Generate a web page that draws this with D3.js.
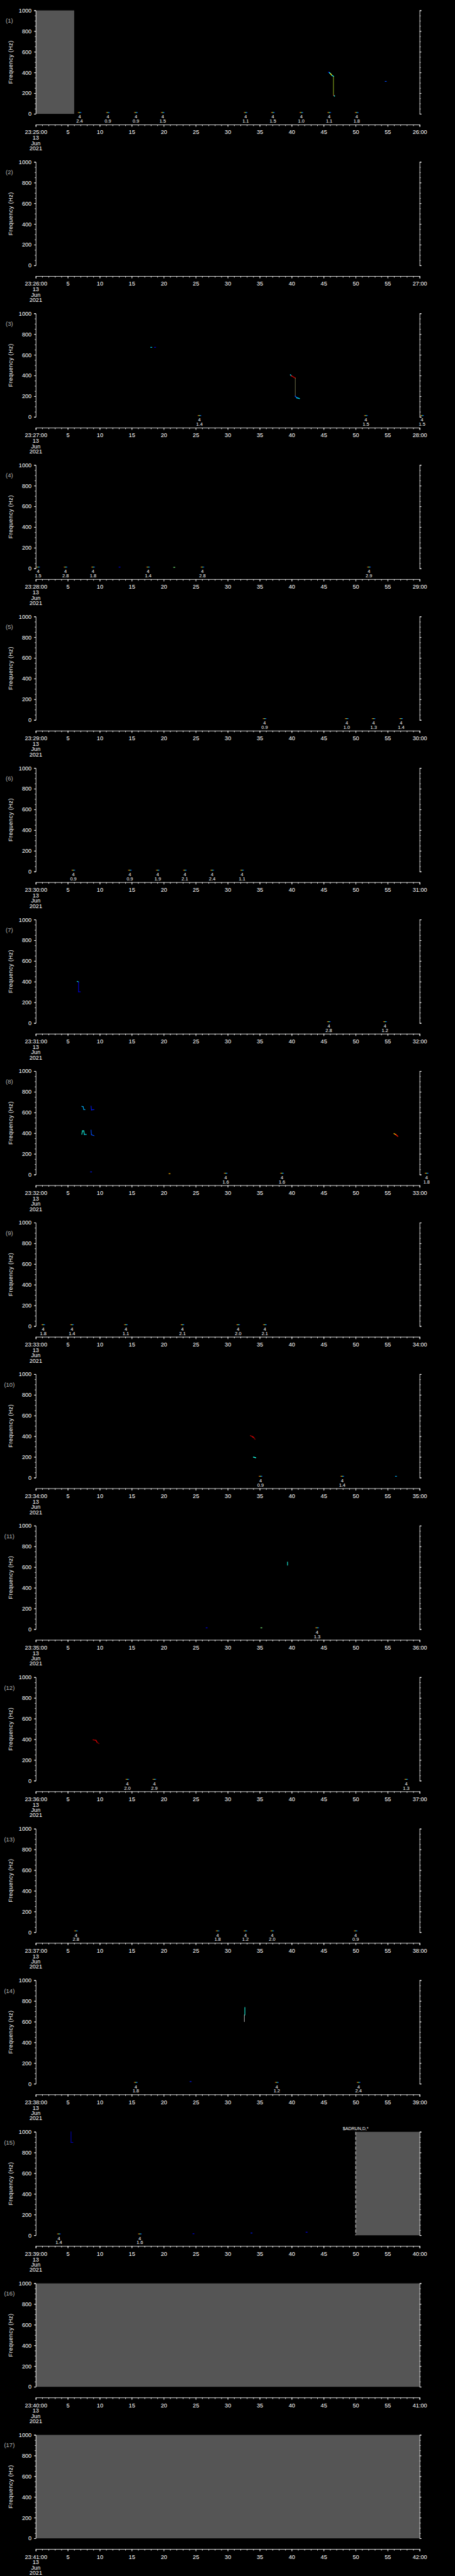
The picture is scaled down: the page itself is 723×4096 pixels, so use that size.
<!DOCTYPE html>
<html>
<head>
<meta charset="utf-8">
<script src="https://cdn.jsdelivr.net/npm/d3@7"></script>
<style>
  html, body { margin: 0; padding: 0; background: #000; }
  svg { display: block; }
  text { font-family: "Liberation Sans", Arial, sans-serif; fill: #fff; }
</style>
</head>
<body>
<div id="chart"></div>
<script>
// one panel per minute, 23:25 .. 23:41 UT, 13 Jun 2021
const startMinutes = [25, 26, 27, 28, 29, 30, 31, 32, 33, 34, 35, 36, 37, 38, 39, 40, 41];
const freqTicks = [0, 200, 400, 600, 800, 1000];

// detected events (seconds after the minute) and their values
const eventTimes = [
  [6.85, 11.27, 15.65, 19.84, 32.8, 37.06, 41.5, 45.86, 50.16],
  [],
  [25.58, 51.6, 60.37],
  [0.36, 4.65, 8.95, 17.56, 26.04, 52.07],
  [35.76, 48.6, 52.8, 57.1],
  [5.87, 14.7, 19.06, 23.3, 27.57, 32.24],
  [45.8, 54.58],
  [29.68, 38.48, 61.08],
  [1.16, 5.65, 14.08, 22.92, 31.63, 35.8],
  [35.13, 47.9],
  [43.97],
  [14.31, 18.53, 57.9],
  [6.28, 28.42, 32.77, 36.95, 50.0],
  [15.63, 37.67, 50.45],
  [3.6, 16.26],
  [],
  []
];
const eventValues = [
  ['2.4', '0.9', '0.9', '1.5', '1.1', '1.5', '1.0', '1.1', '1.8'],
  [],
  ['1.4', '1.5', '1.5'],
  ['1.5', '2.8', '1.8', '1.4', '2.8', '2.9'],
  ['0.9', '1.0', '1.3', '1.4'],
  ['0.9', '0.9', '1.9', '2.1', '2.4', '1.1'],
  ['2.8', '1.2'],
  ['1.6', '1.6', '1.8'],
  ['1.8', '1.4', '1.1', '2.1', '2.0', '2.1'],
  ['0.9', '1.4'],
  ['1.3'],
  ['2.0', '2.9', '1.3'],
  ['2.8', '1.8', '1.2', '2.0', '0.9'],
  ['1.8', '1.2', '2.4'],
  ['1.4', '1.6'],
  [],
  []
];
const eventLevel = '4';

// small isolated spectrogram pixels: [panel, seconds, Hz, colour value]
const blips = [
  [0, 54.7, 313, 0.2],
  [2, 18.05, 672, 0.35], [2, 18.64, 672, 0.1],
  [3, 13.1, 12, 0.1], [3, 21.64, 10, 0.5],
  [7, 8.64, 25, 0.15], [7, 20.9, 8, 0.7],
  [9, 56.3, 12, 0.3],
  [10, 26.7, 12, 0.1], [10, 35.26, 12, 0.5],
  [13, 24.2, 20, 0.15],
  [14, 24.65, 14, 0.1], [14, 33.72, 21, 0.15], [14, 42.33, 29, 0.1]
];

// tonal traces: panel, stroke width, points [seconds, Hz, colour value]
const traces = [
  { panel: 0, w: 2, pts: [[45.74, 403, 0.1], [45.9, 398, 0.4], [46.1, 386, 0.65], [46.3, 372, 0.35], [46.53, 363, 0.15]] },
  { panel: 0, w: 1, pts: [[46.53, 363, 0.58], [46.53, 181, 0.58]] },
  { panel: 0, w: 2, pts: [[46.53, 181, 0.95], [46.62, 176, 0.4], [46.7, 172, 0.35]] },
  { panel: 2, w: 2, pts: [[39.8, 407, 0.35], [39.95, 398, 0.9], [40.3, 385, 0.95], [40.56, 375, 0.8]] },
  { panel: 2, w: 1, pts: [[40.56, 375, 'olive'], [40.56, 200, 'olive']] },
  { panel: 2, w: 2, pts: [[40.56, 200, 0.2], [40.8, 185, 0.35], [41.2, 178, 0.1]] },
  { panel: 6, w: 1.5, pts: [[6.46, 403, 0.4], [6.69, 398, 0.1], [6.69, 302, 0.1], [6.96, 302, 0.1]] },
  { panel: 7, w: 1.5, pts: [[7.19, 660, 0.3], [7.4, 655, 0.3], [7.5, 630, 0.3], [7.69, 628, 0.2]] },
  { panel: 7, w: 1.5, pts: [[8.64, 662, 0.15], [8.7, 625, 0.15], [9.1, 628, 0.1]] },
  { panel: 7, w: 1.5, pts: [[7.19, 390, 0.4], [7.3, 423, 0.4], [7.5, 423, 0.4], [7.6, 388, 0.35], [7.9, 388, 0.35]] },
  { panel: 7, w: 1.5, pts: [[8.64, 430, 0.2], [8.7, 385, 0.2], [9.1, 376, 0.1]] },
  { panel: 7, w: 2, pts: [[56.0, 396, 0.7], [56.3, 385, 0.85], [56.58, 370, 0.7]] },
  { panel: 9, w: 2, pts: [[33.56, 406, 0.95], [33.9, 395, 0.9], [34.1, 385, 1.0], [34.27, 371, 0.1]] },
  { panel: 9, w: 2, pts: [[34.04, 198, 0.4], [34.36, 193, 0.35]] },
  { panel: 10, w: 1.5, pts: [[39.35, 649, 0.4], [39.35, 618, 0.35]] },
  { panel: 11, w: 2, pts: [[8.96, 395, 0.95], [9.4, 390, 0.9], [9.6, 370, 1.0], [9.87, 359, 0.15]] },
  { panel: 13, w: 1.5, pts: [[32.68, 738, 0.4], [32.68, 665, 0.4]] },
  { panel: 13, w: 1, pts: [[32.6, 665, 'white'], [32.6, 601, 'white']] },
  { panel: 14, w: 1.5, pts: [[5.51, 1000, 0.05], [5.51, 898, 0.05], [5.8, 898, 0.1]] }
];

// missing data: [panel, from s, to s, label]
const gaps = [
  [0, 0, 6, ''],
  [14, 50, 60, '$ADRUN,D,*'],
  [15, 0, 60, ''],
  [16, 0, 60, '']
];

const W = 1024, H = 5802;
const panelH = H / startMinutes.length;

function jet(v) {
  if (typeof v === 'string') return v === 'olive' ? '#9a9a66' : '#ffffff';
  const c = (a) => Math.round(255 * Math.max(0, Math.min(1, a)));
  return `rgb(${c(1.5 - Math.abs(4 * v - 3))},${c(1.5 - Math.abs(4 * v - 2))},${c(1.5 - Math.abs(4 * v - 1))})`;
}

const svg = d3.select('#chart').append('svg')
  .attr('width', 723).attr('height', 4096)
  .attr('viewBox', `0 0 ${W} ${H}`);

svg.append('rect').attr('width', W).attr('height', H).attr('fill', '#000');

const defs = svg.append('defs');
const grad = defs.append('linearGradient').attr('id', 'jet');
[[0, 1], [0.3, 0.7], [0.55, 0.45], [0.8, 0.25], [1, 0.05]].forEach(([o, v]) => {
  grad.append('stop').attr('offset', o).attr('stop-color', jet(v));
});

const x = d3.scaleLinear().domain([0, 60]).range([80.5, 944.5]);
const y = d3.scaleLinear().domain([0, 1000]).range([256.5, 23.5]);

function styleAxis(g) {
  g.selectAll('path, line').attr('stroke', '#fff').attr('stroke-width', 1.2);
  g.selectAll('text').attr('fill', '#fff').attr('font-size', 13)
    .attr('font-family', '"Liberation Sans", Arial, sans-serif');
}

startMinutes.forEach((m, i) => {
  const g = svg.append('g').attr('transform', `translate(0,${i * panelH})`);

  // gaps
  gaps.filter((d) => d[0] === i).forEach((d) => {
    g.append('rect')
      .attr('x', x(d[1])).attr('y', y(1000))
      .attr('width', x(d[2]) - x(d[1])).attr('height', y(0) - y(1000))
      .attr('fill', '#555555');
    if (d[3]) {
      g.append('line')
        .attr('x1', x(d[1])).attr('x2', x(d[1]))
        .attr('y1', y(1000)).attr('y2', y(0))
        .attr('stroke', '#fff').attr('stroke-width', 1.2)
        .attr('stroke-dasharray', '7,4');
      g.append('text')
        .attr('x', x(d[1])).attr('y', 19)
        .attr('text-anchor', 'middle').attr('font-size', 10)
        .text(d[3]);
    }
  });

  // traces
  traces.filter((d) => d.panel === i).forEach((tr) => {
    for (let k = 0; k < tr.pts.length - 1; k++) {
      const a = tr.pts[k], b = tr.pts[k + 1];
      g.append('line')
        .attr('x1', x(a[0])).attr('y1', y(a[1]))
        .attr('x2', x(b[0])).attr('y2', y(b[1]))
        .attr('stroke', jet(a[2])).attr('stroke-width', tr.w)
        .attr('stroke-linecap', 'square');
    }
  });

  // isolated pixels
  g.selectAll('rect.blip')
    .data(blips.filter((d) => d[0] === i))
    .enter().append('rect')
    .attr('class', 'blip')
    .attr('x', (d) => x(d[1]) - 2).attr('y', (d) => y(d[2]) - 1)
    .attr('width', 4).attr('height', 1.6)
    .attr('fill', (d) => jet(d[3]));

  // events near 0 Hz with labels
  const ev = eventTimes[i].map((t, k) => ({ t, v: eventValues[i][k] }));
  const evG = g.selectAll('g.event').data(ev).enter().append('g')
    .attr('class', 'event')
    .attr('transform', (d) => `translate(${x(d.t)},0)`);
  evG.append('rect')
    .attr('x', -4.5).attr('y', 252.6).attr('width', 9).attr('height', 1.6)
    .attr('fill', 'url(#jet)');
  evG.append('text').attr('y', 267).attr('text-anchor', 'middle')
    .attr('font-size', 10.5).text(eventLevel);
  evG.append('text').attr('y', 276.5).attr('text-anchor', 'middle')
    .attr('font-size', 10.5).text((d) => d.v);

  // frequency axes
  g.append('g').attr('transform', 'translate(80.5,0)')
    .call(d3.axisLeft(y).tickValues(d3.range(0, 1001, 50)).tickSize(2.4).tickFormat(''))
    .call((a) => a.select('.domain').remove())
    .call(styleAxis);
  g.append('g').attr('transform', 'translate(80.5,0)')
    .call(d3.axisLeft(y).tickValues(freqTicks).tickSize(4).tickSizeOuter(4).tickPadding(5.5)
      .tickFormat(d3.format('d')))
    .call(styleAxis);
  g.append('g').attr('transform', 'translate(944.5,0)')
    .call(d3.axisRight(y).tickValues(d3.range(0, 1001, 50)).tickSize(2.4).tickFormat(''))
    .call((a) => a.select('.domain').remove())
    .call(styleAxis);
  g.append('g').attr('transform', 'translate(944.5,0)')
    .call(d3.axisRight(y).tickValues(freqTicks).tickSize(4).tickSizeOuter(4).tickFormat(''))
    .call(styleAxis);

  g.append('text')
    .attr('transform', 'translate(28,140) rotate(-90)')
    .attr('text-anchor', 'middle').attr('font-size', 13)
    .attr('letter-spacing', 0.6)
    .text('Frequency (Hz)');

  g.append('text')
    .attr('x', 21).attr('y', 51.5).attr('text-anchor', 'middle')
    .attr('font-size', 13.5).style('fill', '#b4b4b4')
    .text(`(${i + 1})`);

  // time axis
  const tAxisY = 280.7;
  g.append('g').attr('transform', `translate(0,${tAxisY})`)
    .call(d3.axisBottom(x).tickValues(d3.range(0, 61, 1)).tickSize(3.3).tickFormat(''))
    .call((a) => a.select('.domain').remove())
    .call(styleAxis);
  g.append('g').attr('transform', `translate(0,${tAxisY})`)
    .call(d3.axisBottom(x).tickValues(d3.range(0, 61, 5)).tickSize(5).tickSizeOuter(5).tickPadding(7.5)
      .tickFormat((s) => (s === 0 ? `23:${m}:00` : s === 60 ? `${m + 1}:00` : `${s}`)))
    .call(styleAxis);

  ['13', 'Jun', '2021'].forEach((t, k) => {
    g.append('text')
      .attr('x', x(0)).attr('y', 315 + k * 11.8)
      .attr('text-anchor', 'middle').attr('font-size', 13)
      .text(t);
  });
});
</script>
</body>
</html>
